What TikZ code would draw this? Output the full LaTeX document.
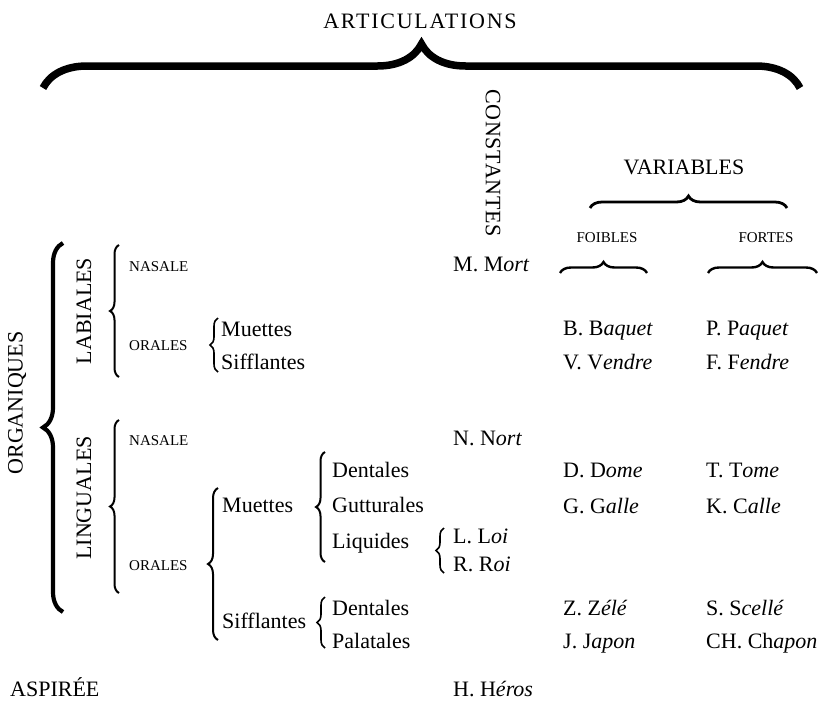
\documentclass[tikz,border=0pt]{standalone}
\usepackage{fontspec}
\setmainfont{Liberation Serif}
\usepackage{tikz}
\usetikzlibrary{decorations.pathreplacing}
\tikzset{
    texte/.style={inner sep=0pt, anchor=base west, font=\fontsize{22}{26}\selectfont},
    petit/.style={inner sep=0pt, anchor=base west, font=\fontsize{15}{18}\selectfont},
    titre/.style={inner sep=0pt, font=\fontsize{22}{26}\selectfont},
    accolade/.style={decorate, decoration={brace, amplitude=#1}, line width=2pt},
    accolade/.default=9
}

\begin{document}
\begin{tikzpicture}[x=1pt, y=-1pt]
    \useasboundingbox (0,0) rectangle (826,704);

    \node[titre, anchor=base] (artic) at (420,28) {\addfontfeature{LetterSpace=8}ARTICULATIONS};
    \draw[accolade=44, line width=7.5pt] (43,88) -- (800,88);

    \node[titre, rotate=-90, anchor=center] (const) at (493,163) {\addfontfeature{LetterSpace=3}CONSTANTES};
    \node[titre, anchor=base] (var) at (684,174) {VARIABLES};
    \draw[accolade=12, line width=2.8pt] (590,208) -- (787,208);
    \node[petit, anchor=base] (foib) at (607,242) {FOIBLES};
    \node[petit, anchor=base] (fort) at (766,242) {FORTES};
    \draw[accolade=11, line width=2.4pt] (560,273) -- (647,273);
    \draw[accolade=11, line width=2.4pt] (708,273) -- (817,273);

    \node[titre, rotate=90, anchor=center] (organ) at (17,403) {ORGANIQUES};
    \draw[accolade=20, line width=4.2pt] (63,612) -- (63,243);
    \node[titre, rotate=90, anchor=center] (lab) at (84,311) {LABIALES};
    \draw[accolade] (119,377) -- (119,245);
    \node[titre, rotate=90, anchor=center] (ling) at (84,498) {LINGUALES};
    \draw[accolade] (119,593) -- (119,420);

    \node[petit] (labnas) at (129,271) {NASALE};
    \node[petit] (labor) at (129,350) {ORALES};
    \draw[accolade=8, line width=1.6pt] (218,372) -- (218,318);
    \node[texte] (labmu) at (221,336) {Muettes};
    \node[texte] (labsi) at (221,369) {Sifflantes};

    \node[petit] (lingnas) at (129,445) {NASALE};
    \node[petit] (lingor) at (129,570) {ORALES};
    \draw[accolade=10] (218,640) -- (218,488);
    \node[texte] (lingmu) at (222,512) {Muettes};
    \node[texte] (lingsi) at (222,628) {Sifflantes};
    \draw[accolade] (325,562) -- (325,452);
    \draw[accolade=8, line width=1.6pt] (325,648) -- (325,597);
    \node[texte] (dent) at (332,477) {Dentales};
    \node[texte] (gutt) at (332,512) {Gutturales};
    \node[texte] (liq) at (332,548) {Liquides};
    \node[texte] (sdent) at (332,615) {Dentales};
    \node[texte] (pal) at (332,648) {Palatales};
    \draw[accolade=8, line width=1.6pt] (444,573) -- (444,528);

    \node[texte] (m) at (453,271) {M. M\textit{ort}};
    \node[texte] (n) at (453,445) {N. N\textit{ort}};
    \node[texte] (l) at (453,543) {L. L\textit{oi}};
    \node[texte] (r) at (453,571) {R. R\textit{oi}};
    \node[texte] (h) at (453,696) {H. H\textit{éros}};

    \node[texte] (b) at (563,335) {B. B\textit{aquet}};
    \node[texte] (v) at (563,369) {V. V\textit{endre}};
    \node[texte] (d) at (563,477) {D. D\textit{ome}};
    \node[texte] (g) at (563,513) {G. G\textit{alle}};
    \node[texte] (z) at (563,615) {Z. Z\textit{élé}};
    \node[texte] (j) at (563,648) {J. J\textit{apon}};

    \node[texte] (p) at (706,335) {P. P\textit{aquet}};
    \node[texte] (f) at (706,369) {F. F\textit{endre}};
    \node[texte] (t) at (706,477) {T. T\textit{ome}};
    \node[texte] (k) at (706,513) {K. C\textit{alle}};
    \node[texte] (s) at (706,615) {S. S\textit{cellé}};
    \node[texte] (ch) at (706,648) {CH. Ch\textit{apon}};

    \node[texte] (asp) at (10,696) {ASPIRÉE};
\end{tikzpicture}
\end{document}
